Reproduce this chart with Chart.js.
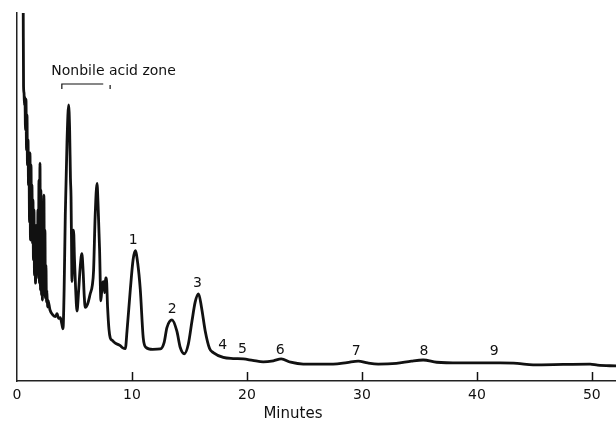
<!DOCTYPE html>
<html>
<head>
<meta charset="utf-8">
<script src="https://cdn.jsdelivr.net/npm/chart.js@4.4.1/dist/chart.umd.min.js"></script>
<style>
  html, body { margin: 0; padding: 0; background: #fff; }
  #wrap { width: 616px; height: 423px; position: relative; }
</style>
</head>
<body>
<div id="wrap"><canvas id="chromatogram"></canvas></div>
<script>
// Retention time (minutes) and detector response (% of full scale)
const times = [
  0.54, 0.57,
  0.61, 0.65, 0.69, 0.74, 0.78, 0.83, 0.87, 0.91, 0.96, 1.00,
  1.04, 1.09, 1.13, 1.17, 1.22, 1.26, 1.30, 1.35, 1.39, 1.43,
  1.48, 1.52, 1.56, 1.61, 1.65, 1.69, 1.74, 1.78, 1.82, 1.87,
  1.91, 1.95, 2.00, 2.04, 2.08, 2.13, 2.17, 2.21, 2.26, 2.30,
  2.34, 2.39, 2.43, 2.47, 2.52, 2.56, 2.60, 2.65, 2.69, 2.87,
  3.13, 3.35, 3.48, 3.62, 3.77, 3.90, 4.00, 4.10, 4.20, 4.35,
  4.49, 4.58, 4.65, 4.70, 4.75, 4.78, 4.85, 4.92, 5.00, 5.10,
  5.22, 5.35, 5.50, 5.64, 5.75, 5.85, 5.94, 6.15, 6.37, 6.55,
  6.66, 6.80, 6.96, 7.05, 7.18, 7.30, 7.40, 7.53, 7.62, 7.70,
  7.77, 7.88, 8.00, 8.11, 8.30, 8.55, 8.98, 9.20, 9.42, 9.57,
  9.86, 10.10, 10.29, 10.50, 10.72, 10.98, 11.20, 11.80, 12.47, 12.80,
  13.04, 13.48, 13.90, 14.20, 14.55, 14.90, 15.22, 15.50, 15.79, 16.05,
  16.37, 16.75, 17.07, 17.94, 18.80, 19.68, 20.50, 21.42, 22.30, 22.98,
  23.80, 24.90, 26.50, 27.50, 28.70, 29.68, 30.50, 31.42, 33.00, 34.30,
  35.33, 36.50, 38.54, 40.00, 42.02, 43.50, 44.89, 47.50, 49.85, 50.50,
  52.11
];
const response = [
  102, 80,
  78.3, 75.0, 77.2, 68.2, 76.6, 62.8, 72.3, 58.7, 65.5, 53.3,
  61.4, 43.2, 62.0, 38.3, 58.7, 40.5, 53.3, 37.5, 49.2, 32.9,
  46.5, 28.8, 42.4, 26.6, 38.3, 28.0, 42.4, 30.7, 46.5, 30.2,
  54.6, 26.6, 59.2, 24.7, 51.9, 23.4, 41.0, 22.0, 46.5, 23.4,
  50.5, 24.2, 41.0, 22.6, 31.5, 21.5, 24.7, 20.1, 22.0, 19.3,
  17.9, 17.5, 18.3, 17.0, 17.2, 15.5, 14.2, 25, 45, 65,
  75, 68, 55, 50, 35, 27, 38, 41, 33, 25,
  19, 24, 31, 34.6, 30, 23, 20, 21, 23.7, 26,
  30, 45, 53.7, 48, 36, 21.8, 26, 27, 24, 28,
  28, 20, 14, 11.7, 11, 10.3, 9.6, 9.0, 8.8, 13.6,
  25, 33, 35.4, 32, 25, 11.7, 9.2, 8.6, 8.7, 10.5,
  14.5, 16.6, 13.6, 9.1, 7.4, 10, 16.3, 21.5, 23.7, 20,
  13.6, 8.8, 7.7, 6.4, 6.1, 6.0, 5.6, 5.2, 5.5, 6.0,
  5.1, 4.6, 4.6, 4.6, 5.0, 5.4, 4.9, 4.6, 4.8, 5.4,
  5.7, 5.1, 4.9, 4.9, 4.9, 4.8, 4.4, 4.5, 4.6, 4.3,
  4.1
];

// Peak numbers and where they are printed (minutes, response)
const peakLabels = ['1', '2', '3', '4', '5', '6', '7', '8', '9'];
const peakLabelTimes = [10.1, 13.5, 15.7, 17.9, 19.6, 22.9, 29.5, 35.4, 41.5];
const peakLabelLevels = [38.3, 19.6, 26.4, 9.8, 8.7, 8.2, 8.0, 8.0, 8.0];

// Bracket over the nonbile acid zone
const zoneStart = 3.9;
const zoneEnd = 7.5;
const zoneTickEnd = 8.1;
const zoneLevel = 80.7;
const zoneText = 'Nonbile acid zone';
const zoneTextTime = 8.4;
const zoneTextLevel = 84.2;

const xTicks = [0, 10, 20, 30, 40, 50];
const xTitle = 'Minutes';
const xTitleTime = 24;

const FONT = '"DejaVu Sans", "Liberation Sans", sans-serif';

const annotations = {
  id: 'annotations',
  afterDraw(chart) {
    const { ctx, scales: { x, y } } = chart;
    ctx.save();
    ctx.fillStyle = '#111';
    ctx.strokeStyle = '#111';
    ctx.textAlign = 'center';
    ctx.textBaseline = 'middle';

    // upward tick marks on the time axis
    ctx.lineWidth = 1.5;
    xTicks.forEach(t => {
      if (t === 0) return;
      const px = Math.round(x.getPixelForValue(t)) + 0.5;
      ctx.beginPath();
      ctx.moveTo(px, y.bottom);
      ctx.lineTo(px, y.bottom - 9);
      ctx.stroke();
    });

    // peak numbers
    ctx.font = '14px ' + FONT;
    peakLabels.forEach((lab, i) => {
      ctx.fillText(lab, x.getPixelForValue(peakLabelTimes[i]), y.getPixelForValue(peakLabelLevels[i]));
    });

    // zone bracket and text
    ctx.fillText(zoneText, x.getPixelForValue(zoneTextTime), y.getPixelForValue(zoneTextLevel));
    const yl = y.getPixelForValue(zoneLevel);
    ctx.lineWidth = 1.2;
    ctx.beginPath();
    ctx.moveTo(x.getPixelForValue(zoneStart), yl + 5);
    ctx.lineTo(x.getPixelForValue(zoneStart), yl);
    ctx.lineTo(x.getPixelForValue(zoneEnd), yl);
    ctx.stroke();
    ctx.beginPath();
    ctx.moveTo(x.getPixelForValue(zoneTickEnd), yl + 1);
    ctx.lineTo(x.getPixelForValue(zoneTickEnd), yl + 5);
    ctx.stroke();

    // axis title
    ctx.font = '15px ' + FONT;
    ctx.fillText(xTitle, x.getPixelForValue(xTitleTime), 414);
    ctx.restore();
  }
};

new Chart(document.getElementById('chromatogram'), {
  type: 'line',
  data: {
    datasets: [{
      data: times.map((t, i) => ({ x: t, y: response[i] })),
      borderColor: '#111',
      borderWidth: 2.8,
      pointRadius: 0,
      cubicInterpolationMode: 'monotone',
      fill: false
    }]
  },
  options: {
    responsive: true,
    maintainAspectRatio: false,
    animation: false,
    layout: { padding: { top: 13, left: 0, right: 0, bottom: 0 } },
    plugins: { legend: { display: false }, tooltip: { enabled: false } },
    scales: {
      x: {
        type: 'linear',
        min: 0,
        max: 52.1,
        afterFit(scale) { scale.height = 42; },
        afterBuildTicks(scale) { scale.ticks = xTicks.map(v => ({ value: v })); },
        grid: { display: false, drawTicks: false, tickLength: 0 },
        border: { display: true, color: '#222', width: 1.5 },
        ticks: {
          color: '#111',
          padding: 6,
          maxRotation: 0,
          font: { size: 14, family: FONT }
        }
      },
      y: {
        min: 0,
        max: 100,
        afterFit(scale) { scale.width = 17; },
        grid: { display: false, drawTicks: false },
        border: { display: true, color: '#222', width: 1.5 },
        ticks: { display: false }
      }
    }
  },
  plugins: [annotations]
});
</script>
</body>
</html>
